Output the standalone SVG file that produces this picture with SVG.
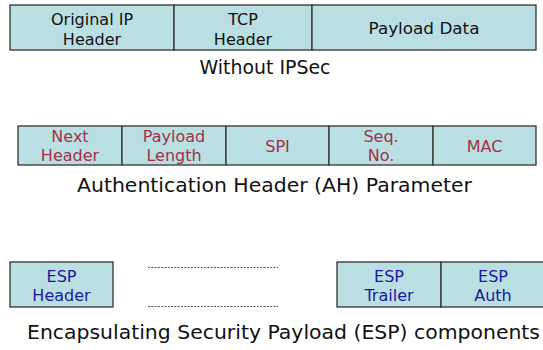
<svg xmlns="http://www.w3.org/2000/svg" width="543" height="350" viewBox="0 0 543 350">
<style>
.cell{fill:#badfe2;stroke:#333;stroke-width:1.3}
.t{font-family:"DejaVu Sans",Verdana,sans-serif;font-size:16px;text-anchor:middle}
.k{fill:#111}
.r{fill:#a3304a}
.b{fill:#1a1a9a}
.cap{font-family:"DejaVu Sans",Verdana,sans-serif;font-size:20px;text-anchor:middle;fill:#111}
.dot{stroke:#555;stroke-width:1;stroke-dasharray:2 1.3;fill:none}
</style>
<rect width="543" height="350" fill="#fff"/>
<g id="row-ip">
<g id="orig-ip"><rect class="cell" x="10" y="5" width="164" height="45"/><text class="t k" x="92" y="25">Original IP</text><text class="t k" x="92" y="44.5">Header</text></g>
<g id="tcp"><rect class="cell" x="174" y="5" width="138" height="45"/><text class="t k" x="243" y="25">TCP</text><text class="t k" x="243" y="44.5">Header</text></g>
<g id="payload"><rect class="cell" x="312" y="5" width="224" height="45"/><text class="t k" x="424" y="34" textLength="111" lengthAdjust="spacingAndGlyphs">Payload Data</text></g>
</g>
<text class="cap" x="265" y="74" textLength="131" lengthAdjust="spacingAndGlyphs">Without IPSec</text>
<g id="row-ah">
<g id="next"><rect class="cell" x="18" y="126" width="104" height="39"/><text class="t r" x="70" y="141.5">Next</text><text class="t r" x="70" y="161">Header</text></g>
<g id="plen"><rect class="cell" x="122" y="126" width="104" height="39"/><text class="t r" x="174" y="141.5">Payload</text><text class="t r" x="174" y="161">Length</text></g>
<g id="spi"><rect class="cell" x="226" y="126" width="103" height="39"/><text class="t r" x="277.5" y="152">SPI</text></g>
<g id="seq"><rect class="cell" x="329" y="126" width="104" height="39"/><text class="t r" x="381" y="141.5">Seq.</text><text class="t r" x="381" y="161">No.</text></g>
<g id="mac"><rect class="cell" x="433" y="126" width="103" height="39"/><text class="t r" x="484.5" y="152">MAC</text></g>
</g>
<text class="cap" x="274.5" y="192" textLength="395" lengthAdjust="spacingAndGlyphs">Authentication Header (AH) Parameter</text>
<g id="esp-header"><rect class="cell" x="10" y="262" width="103" height="45"/><text class="t b" x="61.5" y="281.5">ESP</text><text class="t b" x="61.5" y="301">Header</text></g>
<g id="connectors"><line class="dot" x1="148" y1="267.5" x2="278" y2="267.5"/><line class="dot" x1="148" y1="306.5" x2="278" y2="306.5"/></g>
<g id="esp-trailer"><rect class="cell" x="337" y="262" width="104" height="45"/><text class="t b" x="389" y="281.5">ESP</text><text class="t b" x="389" y="301">Trailer</text></g>
<g id="esp-auth"><rect class="cell" x="441" y="262" width="104" height="45"/><text class="t b" x="493" y="281.5">ESP</text><text class="t b" x="493" y="301">Auth</text></g>
<text class="cap" x="283.5" y="339" textLength="513" lengthAdjust="spacingAndGlyphs">Encapsulating Security Payload (ESP) components</text>
</svg>
